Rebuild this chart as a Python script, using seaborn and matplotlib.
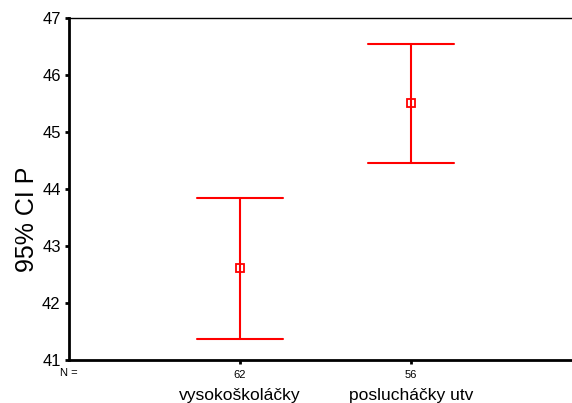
import numpy as np
import pandas as pd
import matplotlib
matplotlib.use("Agg")
import matplotlib.pyplot as plt
import seaborn as sns

# Group summaries: 95% CI bounds and mean of P
groups = ["vysokoškoláčky", "posluchá\u010dky utv"]
counts = [62, 56]
ci_low = [41.37, 44.45]
means = [42.61, 45.51]
ci_high = [43.84, 46.54]
yticks = [41, 42, 43, 44, 45, 46, 47]

sns.set_theme(style="white", rc={
    "text.color": "black", "axes.labelcolor": "black",
    "xtick.color": "black", "ytick.color": "black",
})
plt.rcParams["font.family"] = ["Liberation Sans", "DejaVu Sans"]

# long-form table: each group carries its lower bound, mean and upper bound
df = pd.DataFrame({
    "group": np.repeat(groups, 3),
    "P": np.ravel(np.column_stack([ci_low, means, ci_high])),
})

fig = plt.figure(figsize=(5.72, 4.03), dpi=100)
ax = fig.add_axes([69 / 572, 1 - 360 / 403, 513 / 572, 342 / 403])

sns.pointplot(
    data=df, x="group", y="P", order=groups,
    estimator=np.median,
    errorbar=lambda v: (v.min(), v.max()),
    capsize=0.5, color="#ff0000", linestyle="none",
    marker="s", markersize=6, markerfacecolor="white",
    markeredgewidth=1.3,
    err_kws={"linewidth": 1.5},
    ax=ax,
)

ax.set_xlim(-1, 2)
ax.set_ylim(41, 47)
ax.set_yticks(yticks)
ax.set_yticklabels([str(t) for t in yticks], fontsize=12)
ax.set_xticks(range(len(groups)))
ax.set_xticklabels([str(c) for c in counts], fontsize=8)
ax.tick_params(axis="both", which="both", direction="out", length=3,
               width=2, color="black", labelcolor="black",
               left=True, bottom=True)
ax.tick_params(axis="x", pad=4)
ax.tick_params(axis="y", pad=3)
ax.set_xlabel("")
ax.set_ylabel("95% CI P", fontsize=18, color="black")
ax.yaxis.set_label_coords(-0.058, 0.41)

for side in ["left", "bottom"]:
    ax.spines[side].set_linewidth(2)
    ax.spines[side].set_color("black")
ax.spines["top"].set_linewidth(1)
ax.spines["top"].set_color("black")
ax.spines["right"].set_visible(False)

for i, name in enumerate(groups):
    ax.annotate(name, xy=(i, 0), xycoords=("data", "axes fraction"),
                xytext=(0, -25.5), textcoords="offset points",
                ha="center", va="center", fontsize=12.5, color="black")
ax.annotate("N =", xy=(0, 0), xycoords="axes fraction",
            xytext=(0, -9.5), textcoords="offset points",
            ha="center", va="center", fontsize=8, color="black")

fig.savefig("out.png", dpi=100)
